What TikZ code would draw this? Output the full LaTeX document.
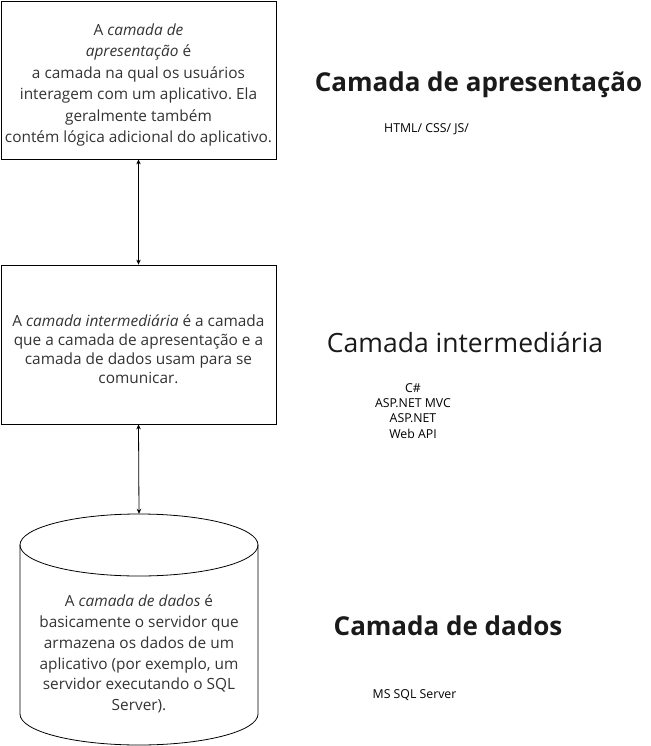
\documentclass[tikz,border=0pt]{standalone}
\usepackage{fontspec}
\setmainfont{Open Sans}
\usetikzlibrary{arrows.meta}
\frenchspacing
\definecolor{txt}{HTML}{333333}
\definecolor{ttl}{HTML}{1A1A1A}
\tikzset{
  layerbox/.style={draw=black, line width=0.8pt, minimum width=275pt, inner sep=0pt},
  bodytext/.style={inner sep=0pt, align=center, text=txt},
  boldtitle/.style={inner sep=0pt, anchor=base, text=ttl, font=\fontsize{26}{30}\selectfont\bfseries},
  plaintitle/.style={inner sep=0pt, anchor=base, text=ttl, font=\fontsize{26.5}{30}\selectfont},
  techlabel/.style={inner sep=0pt, align=center, text=black, font=\fontsize{12.3}{15.2}\selectfont},
  link/.style={line width=0.8pt, {Stealth[length=5pt,width=4.5pt]}-{Stealth[length=5pt,width=4.5pt]}}
}
\begin{document}
\begin{tikzpicture}[x=1pt,y=-1pt]
\useasboundingbox (0,0) rectangle (650,746);
% boxes
\node[layerbox, minimum height=158pt] (pres) at (138.5,80) {};
\node[bodytext, font=\fontsize{15.4}{21.4}\selectfont] (prest) at (138.5,85) {A \textit{camada de}\\\textit{apresentação} é\\a camada na qual os usuários\\interagem com um aplicativo. Ela\\geralmente também\\contém lógica adicional do aplicativo.};
\node[layerbox, minimum height=159pt] (mid) at (138.5,344.5) {};
\node[bodytext, font=\fontsize{15.4}{19}\selectfont] (midt) at (138.5,349) {A \textit{camada intermediária} é a camada\\que a camada de apresentação e a\\camada de dados usam para se\\comunicar.};
% cylinder
\node[minimum width=238pt, minimum height=231pt, inner sep=0pt] (db) at (139,629.5) {};
\draw[line width=0.8pt] (20,545) arc[start angle=180, end angle=0, x radius=119, y radius=31]
  arc[start angle=0, end angle=-180, x radius=119, y radius=31] -- cycle;
\draw[line width=0.8pt] (20,545) -- (20,714) arc[start angle=180, end angle=0, x radius=119, y radius=31] -- (258,545);
\node[bodytext, font=\fontsize{15.4}{20.8}\selectfont] (dbt) at (139,654) {A \textit{camada de dados} é\\basicamente o servidor que\\armazena os dados de um\\aplicativo (por exemplo, um\\servidor executando o SQL\\Server).};
% connectors
\draw[link] (pres.south) -- (mid.north);
\draw[link] (mid.south) -- (db.north);
% titles
\node[boldtitle] (t1) at (478.5,92) {Camada de apresentação};
\node[techlabel, anchor=base] (l1) at (426.5,133) {HTML/ CSS/ JS/};
\node[plaintitle] (t2) at (465,352) {Camada intermediária};
\node[techlabel] (l2) at (413,411) {C\#\\ASP.NET MVC\\ASP.NET\\Web API};
\node[boldtitle] (t3) at (448,635) {Camada de dados};
\node[techlabel, anchor=base] (l3) at (414.5,698) {MS SQL Server};
\end{tikzpicture}
\end{document}
